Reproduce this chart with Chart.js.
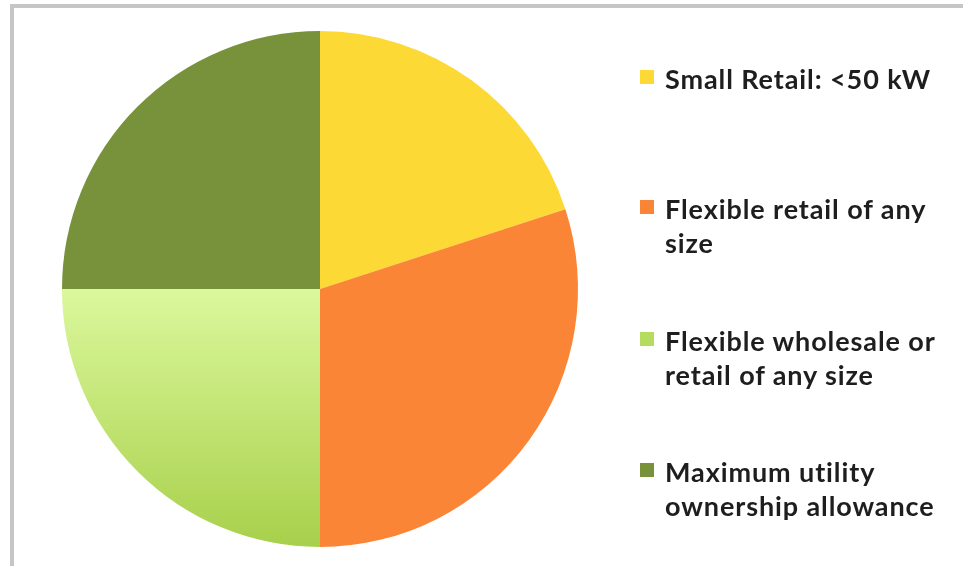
<!DOCTYPE html>
<html>
<head>
<meta charset="utf-8">
<script src="https://cdn.jsdelivr.net/npm/chart.js@4/dist/chart.umd.min.js"></script>
<style>
    body { margin: 0; background: #fff; }
    #page { position: relative; width: 963px; height: 566px; overflow: hidden; background: #fff; }
    #frame { position: absolute; left: 10px; top: 4px; right: -10px; bottom: -10px;
             border-top: 4px solid #c6c6c6; border-left: 4px solid #c6c6c6; }
    #pieBox { position: absolute; left: 0; top: 0; width: 640px; height: 566px; }
    #legend { position: absolute; left: 0; top: 0; width: 963px; height: 566px; pointer-events: none;
              font-family: Lato, "Open Sans", sans-serif; font-weight: bold; font-size: 27px;
              letter-spacing: 0.9px; color: #1e1e1e; line-height: 34px; }
    .item { position: absolute; left: 640px; width: 320px; }
    .swatch { position: absolute; left: 0; top: 8px; width: 14px; height: 14px; }
    .label { position: absolute; left: 25px; white-space: nowrap; }
</style>
</head>
<body>
<div id="page">
    <div id="frame"></div>
    <div id="pieBox"><canvas id="pieChart"></canvas></div>
    <div id="legend"></div>
</div>
<script>
const categories = [
    ['Small Retail: <50 kW'],
    ['Flexible retail of any', 'size'],
    ['Flexible wholesale or', 'retail of any size'],
    ['Maximum utility', 'ownership allowance']
];
const shares = [20, 30, 25, 25];           // percent of pie
const sliceColors = ['#fdd935', '#fb8536', '#c4e673', '#77923a'];
const legendTops = [62, 192, 324, 455];    // y of the first text line for each legend entry

// light green slice has a soft vertical gradient
function sliceFill(ctx){
    if (ctx.dataIndex !== 2) return sliceColors[ctx.dataIndex];
    const area = ctx.chart.chartArea;
    if (!area) return sliceColors[2];
    const g = ctx.chart.ctx.createLinearGradient(0, 289, 0, area.bottom);
    g.addColorStop(0, '#dbf89c');
    g.addColorStop(1, '#a8d04b');
    return g;
}

const pieChart = new Chart(document.getElementById('pieChart'), {
    type: 'pie',
    data: {
        labels: categories.map(c => c.join(' ')),
        datasets: [{
            data: shares,
            backgroundColor: sliceFill,
            borderWidth: 0
        }]
    },
    options: {
        responsive: true,
        maintainAspectRatio: false,
        animation: false,
        layout: { padding: { top: 31, bottom: 19, left: 0, right: 0 } },
        plugins: {
            legend: { display: false },
            tooltip: { enabled: false }
        }
    }
});

// html legend built from the chart's data
const legend = document.getElementById('legend');
categories.forEach((lines, i) => {
    const item = document.createElement('div');
    item.className = 'item';
    item.style.top = legendTops[i] + 'px';
    const sw = document.createElement('div');
    sw.className = 'swatch';
    sw.style.background = i === 2 ? '#b5dc5e' : sliceColors[i];
    item.appendChild(sw);
    lines.forEach((line, j) => {
        const t = document.createElement('div');
        t.className = 'label';
        t.style.top = (j * 34) + 'px';
        t.textContent = line;
        item.appendChild(t);
    });
    legend.appendChild(item);
});
</script>
</body>
</html>
